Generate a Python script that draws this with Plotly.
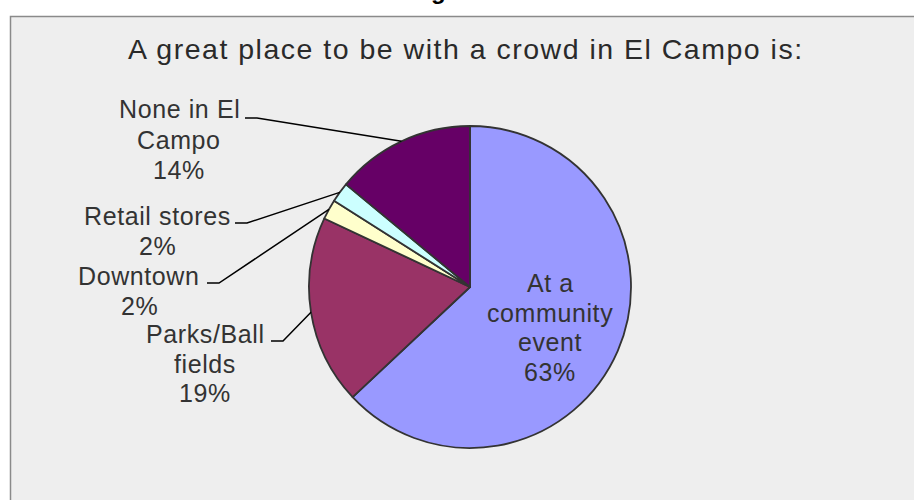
import math
import plotly.graph_objects as go

# ---- data ----
categories = ["At a community event", "Parks/Ball fields", "Downtown", "Retail stores", "None in El Campo"]
label_lines = [["At a", "community", "event"], ["Parks/Ball", "fields"], ["Downtown"], ["Retail stores"], ["None in El", "Campo"]]
values = [63, 19, 2, 2, 14]
colors = ["#9999FF", "#993366", "#FFFFCC", "#CCFFFF", "#660066"]
title_text = "A great place to be with a crowd in El Campo is:"

# ---- layout geometry (target pixels) ----
W, H = 914, 500
cx, cy, r = 470, 287, 161
FONT = "Liberation Sans, Arial, sans-serif"
TXT = "#333333"

def px(x):
    return x / W

def py(y):
    return 1 - y / H

fig = go.Figure()
fig.add_trace(go.Pie(
    labels=categories, values=values, sort=False, direction="clockwise", rotation=0,
    marker=dict(colors=colors, line=dict(color="#333333", width=1.8)),
    textinfo="none", showlegend=False,
    domain=dict(x=[px(cx - r), px(cx + r)], y=[py(cy + r), py(cy - r)]),
))

# label positions: (text centre x, first line y, line step, leader start x, leader y)
label_pos = {
    "At a community event": (550, 282, 29.5, None, None),
    "Parks/Ball fields": (205, 333, 29.5, 271, 341),
    "Downtown": (139, 275, 30, 207, 283),
    "Retail stores": (157, 215, 30, 235, 223),
    "None in El Campo": (179, 108, 30.5, 245, 118),
}

def spaced(s, ls):
    return f"<span style='letter-spacing:{ls}px'>{s}</span>"

total = sum(values)
cum = 0
shapes = [dict(type="rect", xref="paper", yref="paper", x0=px(10.5), x1=1.05, y0=-0.05, y1=py(16.5),
               fillcolor="#EEEEEE", line=dict(color="#8A8A8A", width=1.5), layer="below")]
annotations = []
for cat, lines, v in zip(categories, label_lines, values):
    mid = (cum + v / 2) / total * 2 * math.pi
    cum += v
    pct = round(v / total * 100)
    tx, ty, step, lx, ly = label_pos[cat]
    for i, line in enumerate(lines + [f"{pct}%"]):
        annotations.append(dict(x=px(tx), y=py(ty + i * step + 1), xref="paper", yref="paper",
                                text=spaced(line, 0.6), showarrow=False, xanchor="center", yanchor="middle",
                                font=dict(family=FONT, size=25, color=TXT)))
    if lx is not None:
        ex = cx + r * math.sin(mid)
        ey = cy - r * math.cos(mid)
        path = f"M {px(lx)} {py(ly)} L {px(lx + 12)} {py(ly)} L {px(ex)} {py(ey)}"
        shapes.append(dict(type="path", xref="paper", yref="paper", path=path,
                           line=dict(color="#000000", width=1.5), layer="above"))

annotations.append(dict(x=px(466), y=py(49.5), xref="paper", yref="paper", text=spaced(title_text, 1.5),
                        showarrow=False, xanchor="center", yanchor="middle",
                        font=dict(family=FONT, size=28.5, color="#2A2A2A")))
# cut-off text at the very top
annotations.append(dict(x=px(438), y=py(-9), xref="paper", yref="paper", text="<b>g</b>", showarrow=False,
                        xanchor="center", yanchor="middle", font=dict(family=FONT, size=24, color="#000000")))

fig.update_layout(width=W, height=H, margin=dict(l=0, r=0, t=0, b=0), paper_bgcolor="#FFFFFF",
                  shapes=shapes, annotations=annotations)
fig.write_html("out.html", config={"displayModeBar": False},
               post_script="document.body.style.margin='0px';document.documentElement.style.overflow='hidden';")
